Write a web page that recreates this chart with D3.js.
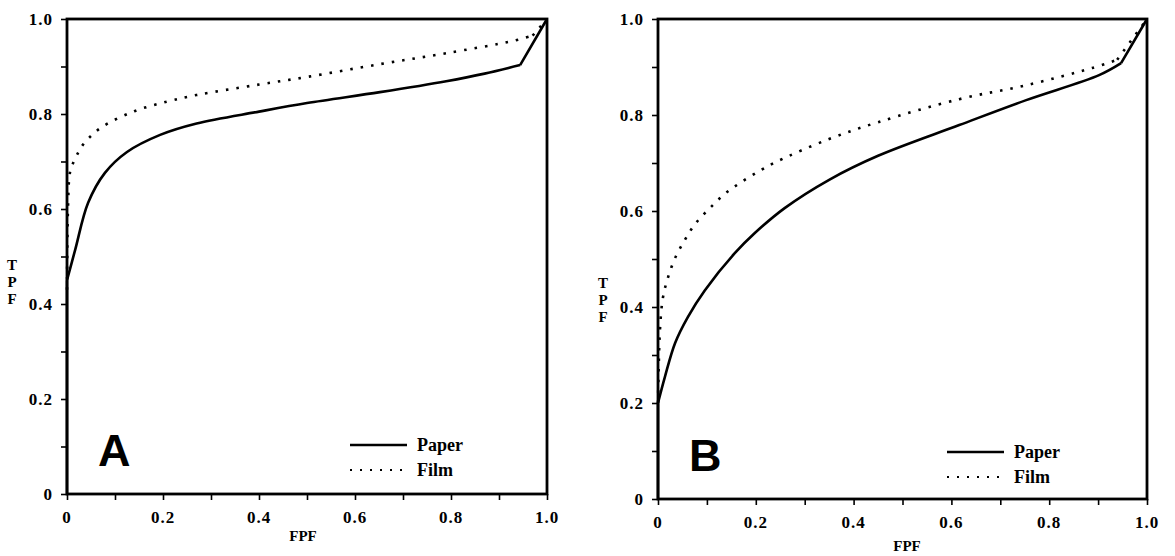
<!DOCTYPE html>
<html>
<head>
<meta charset="utf-8">
<script src="https://cdn.jsdelivr.net/npm/d3@7"></script>
<style>
  body { margin: 0; background: #fff; }
  svg text { font-family: "Liberation Serif", "Times New Roman", serif; fill: #000; }
</style>
</head>
<body>
<div id="chart"></div>
<script>
// ROC data: [FPF, TPF]
const paperA = [[0, 0], [0, 0.45], [0.017, 0.514], [0.044, 0.613], [0.079, 0.676], [0.125, 0.72],
  [0.194, 0.756], [0.27, 0.78], [0.4, 0.805], [0.5, 0.823], [0.652, 0.846], [0.79, 0.869],
  [0.87, 0.885], [0.944, 0.903], [1, 1]];
const filmA = [[0, 0.43], [0.002, 0.6], [0.006, 0.676], [0.012, 0.695], [0.023, 0.718], [0.033, 0.735],
  [0.069, 0.77], [0.138, 0.805], [0.208, 0.826], [0.27, 0.84], [0.4, 0.862], [0.5, 0.878],
  [0.652, 0.905], [0.79, 0.928], [0.93, 0.954], [0.97, 0.965], [1, 1]];
const paperB = [[0, 0], [0, 0.2], [0.014, 0.254], [0.035, 0.325], [0.061, 0.379], [0.096, 0.435],
  [0.157, 0.512], [0.198, 0.554], [0.259, 0.606], [0.35, 0.665], [0.45, 0.715], [0.616, 0.779],
  [0.753, 0.831], [0.902, 0.883], [0.947, 0.908], [1, 1]];
const filmB = [[0, 0.2], [0.004, 0.352], [0.01, 0.419], [0.02, 0.46], [0.035, 0.502], [0.055, 0.54],
  [0.076, 0.573], [0.106, 0.606], [0.137, 0.636], [0.173, 0.662], [0.212, 0.686], [0.245, 0.704],
  [0.35, 0.75], [0.45, 0.785], [0.616, 0.833], [0.753, 0.862], [0.888, 0.898], [0.939, 0.915], [1, 1]];

const tickValues = [0, 0.1, 0.2, 0.3, 0.4, 0.5, 0.6, 0.7, 0.8, 0.9, 1.0];
const labelValues = [0, 0.2, 0.4, 0.6, 0.8, 1.0];
const legendLabels = ['Paper', 'Film'];

const width = 1175, height = 556;
const svg = d3.select('#chart').append('svg')
  .attr('width', width).attr('height', height);

const panels = [
  { letter: 'A', paper: paperA, film: filmA, xr: [67, 547], yr: [494, 19],
    tpfX: 12, tpfY: 270, fpfX: 303, fpfY: 541, legX: 350, legY: 445 },
  { letter: 'B', paper: paperB, film: filmB, xr: [658, 1147], yr: [499, 19],
    tpfX: 603, tpfY: 288, fpfX: 907, fpfY: 551, legX: 947, legY: 452 }
];

const fmt = d => d === 0 ? '0' : d3.format('.1f')(d);

panels.forEach(p => {
  const x = d3.scaleLinear().domain([0, 1]).range(p.xr);
  const y = d3.scaleLinear().domain([0, 1]).range(p.yr);
  const g = svg.append('g');

  // ticks, outward
  g.append('g')
    .attr('transform', `translate(0,${y(0)})`)
    .call(d3.axisBottom(x).tickValues(tickValues).tickSize(6).tickFormat(''))
    .call(a => a.select('.domain').remove())
    .call(a => a.selectAll('line').attr('stroke', '#000').attr('stroke-width', 1.6));
  g.append('g')
    .attr('transform', `translate(${x(0)},0)`)
    .call(d3.axisLeft(y).tickValues(tickValues).tickSize(6).tickFormat(''))
    .call(a => a.select('.domain').remove())
    .call(a => a.selectAll('line').attr('stroke', '#000').attr('stroke-width', 1.6));

  // tick labels
  g.selectAll('.xl').data(labelValues).join('text')
    .attr('x', d => x(d)).attr('y', y(0) + 29)
    .attr('text-anchor', 'middle').attr('font-size', 17).attr('font-weight', 'bold')
    .attr('letter-spacing', 1)
    .text(fmt);
  g.selectAll('.yl').data(labelValues).join('text')
    .attr('x', x(0) - 14).attr('y', d => y(d) + 6)
    .attr('text-anchor', 'end').attr('font-size', 17).attr('font-weight', 'bold')
    .attr('letter-spacing', 1)
    .text(fmt);

  // frame
  g.append('rect')
    .attr('x', x(0)).attr('y', y(1))
    .attr('width', x(1) - x(0)).attr('height', y(0) - y(1))
    .attr('fill', 'none').attr('stroke', '#000').attr('stroke-width', 2.8);

  const smooth = d3.line().x(d => x(d[0])).y(d => y(d[1])).curve(d3.curveCatmullRom.alpha(0.5));
  const straight = d3.line().x(d => x(d[0])).y(d => y(d[1]));

  // curved body with sharp corners: straight lead-in on the axis and straight run to (1,1)
  const drawCurve = (pts, dash) => {
    const start = pts[0][0] === pts[1][0] && pts[0][0] === 0 ? 1 : 0;
    const n = pts.length;
    const segs = [];
    if (start) segs.push([straight, pts.slice(0, 2)]);
    segs.push([smooth, pts.slice(start, n - 1)]);
    segs.push([straight, pts.slice(n - 2)]);
    const d = segs.map(s => s[0](s[1])).join('');
    g.append('path').attr('d', d)
      .attr('fill', 'none').attr('stroke', '#000').attr('stroke-width', 2.6)
      .attr('stroke-linejoin', 'round')
      .attr('stroke-dasharray', dash);
  };
  drawCurve(p.paper, null);
  drawCurve(p.film, '2.5,8');

  // axis titles
  ['T', 'P', 'F'].forEach((c, i) => {
    g.append('text').attr('x', p.tpfX).attr('y', p.tpfY + i * 17)
      .attr('text-anchor', 'middle').attr('font-size', 15).attr('font-weight', 'bold').text(c);
  });
  g.append('text').attr('x', p.fpfX).attr('y', p.fpfY)
    .attr('text-anchor', 'middle').attr('font-size', 15).attr('font-weight', 'bold').text('FPF');

  // panel letter
  g.append('text').attr('x', x(0) + 31).attr('y', y(0) - 28)
    .style('font-family', '"Liberation Sans", Arial, sans-serif')
    .attr('font-size', 45).attr('font-weight', 'bold').text(p.letter);

  // legend
  legendLabels.forEach((lab, i) => {
    const ly = p.legY + i * 25;
    g.append('line').attr('x1', p.legX).attr('x2', p.legX + 57)
      .attr('y1', ly).attr('y2', ly)
      .attr('stroke', '#000').attr('stroke-width', i === 0 ? 2.6 : 2.2)
      .attr('stroke-dasharray', i === 0 ? null : '2,8');
    g.append('text').attr('x', p.legX + 67).attr('y', ly + 6)
      .attr('font-size', 18).attr('font-weight', 'bold').text(lab);
  });
});
</script>
</body>
</html>
